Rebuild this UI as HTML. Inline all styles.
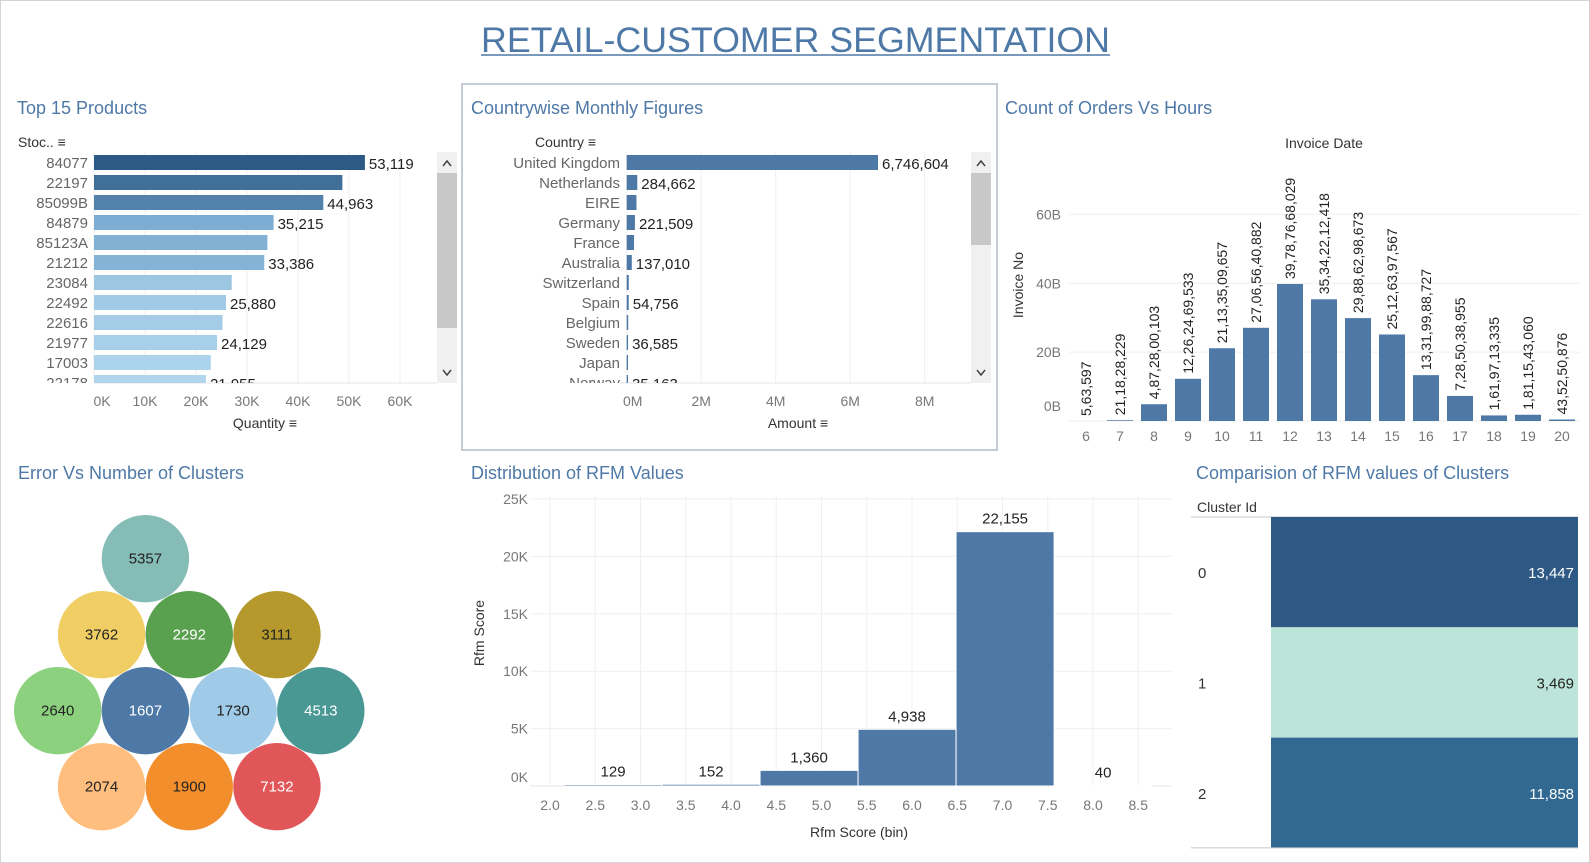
<!DOCTYPE html>
<html><head><meta charset="utf-8"><title>Retail Customer Segmentation</title>
<style>
html,body{margin:0;padding:0;background:#fff;}
svg{display:block;font-family:"Liberation Sans",sans-serif;}
.t{fill:#4e79a7;font-size:18px;}
.tick{fill:#777;font-size:14px;}
.lab{fill:#333;font-size:14px;}
.val{fill:#222;font-size:14px;}
.grid{stroke:#efefef;stroke-width:1;}
</style></head>
<body>
<svg id="dash" width="1590" height="863" viewBox="0 0 1590 863" xmlns="http://www.w3.org/2000/svg">
<rect x="0.5" y="0.5" width="1589" height="862" fill="#fff" stroke="#d4d4d4"/>
<text x="481" y="52" fill="#4e79a7" font-size="35" textLength="629" lengthAdjust="spacingAndGlyphs">RETAIL-CUSTOMER SEGMENTATION</text>
<line x1="481" y1="55" x2="1110" y2="55" stroke="#4e79a7" stroke-width="1.5"/>

<!-- panel titles -->
<text class="t" x="17" y="114">Top 15 Products</text>
<text class="t" x="471" y="114">Countrywise Monthly Figures</text>
<text class="t" x="1005" y="114">Count of Orders Vs Hours</text>
<text class="t" x="18" y="479">Error Vs Number of Clusters</text>
<text class="t" x="471" y="479">Distribution of RFM Values</text>
<text class="t" x="1196" y="479">Comparision of RFM values of Clusters</text>

<rect x="462" y="84" width="535" height="366" fill="none" stroke="#c6ccd4" stroke-width="2"/>
<line x1="997" y1="84" x2="997" y2="450" stroke="#c6ccd4" stroke-width="2" stroke-dasharray="3,2"/>

<g id="g1"></g>
<g id="g2"></g>
<g id="g3"></g>
<g id="g4"></g>
<g id="g5"></g>
<g id="g6"></g>
<defs>
<clipPath id="c1"><rect x="0" y="152" width="437" height="231"/></clipPath>
<clipPath id="c2"><rect x="462" y="152" width="509" height="231"/></clipPath>
</defs>
</svg>
<script>
// ---------- data ----------
const productIds = ["84077","22197","85099B","84879","85123A","21212","23084","22492","22616","21977","17003","22178"];
const productQty = [53119,48700,44963,35215,34000,33386,27000,25880,25200,24129,22900,21955];
const productShowLabel = [true,false,true,true,false,true,false,true,false,true,false,true];
const qtyTicks = [0,10000,20000,30000,40000,50000,60000];
const qtyTickLabels = ["0K","10K","20K","30K","40K","50K","60K"];

const countries = ["United Kingdom","Netherlands","EIRE","Germany","France","Australia","Switzerland","Spain","Belgium","Sweden","Japan","Norway"];
const countryAmount = [6746604,284662,262000,221509,197000,137010,56000,54756,40000,36585,35500,35163];
const countryShowLabel = [true,true,false,true,false,true,false,true,false,true,false,true];
const amountTicks = [0,2000000,4000000,6000000,8000000];
const amountTickLabels = ["0M","2M","4M","6M","8M"];

const hours = [6,7,8,9,10,11,12,13,14,15,16,17,18,19,20];
const invoiceSum = [0.000563597,0.211828229,4.872800103,12.26246953,21.13350966,27.06564088,39.78766803,35.34221242,29.88629867,25.12639757,13.31998873,7.28503896,1.61971334,1.81154306,0.43525088];
const invoiceLabels = ["5,63,597","21,18,28,229","4,87,28,00,103","12,26,24,69,533","21,13,35,09,657","27,06,56,40,882","39,78,76,68,029","35,34,22,12,418","29,88,62,98,673","25,12,63,97,567","13,31,99,88,727","7,28,50,38,955","1,61,97,13,335","1,81,15,43,060","43,52,50,876"];
const invoiceTicks = [0,20,40,60];
const invoiceTickLabels = ["0B","20B","40B","60B"];

const clusterErrors = [5357,3762,2292,3111,2640,1607,1730,4513,2074,1900,7132];
const clusterRow = [0,1,1,1,2,2,2,2,3,3,3];
const clusterCol = [1,0.5,1.5,2.5,0,1,2,3,0.5,1.5,2.5];
const clusterColors = ["#86bcb6","#f1ce63","#59a14f","#b6992d","#8cd17d","#4e79a7","#a0cbe8","#499894","#ffbe7d","#f28e2b","#e15759"];
const clusterTextLight = [false,false,true,false,false,true,false,true,false,false,true];

const rfmBinStart = [2.155,3.238,4.321,5.404,6.487,7.570];
const rfmBinWidth = 1.083;
const rfmCounts = [129,152,1360,4938,22155,40];
const rfmCountLabels = ["129","152","1,360","4,938","22,155","40"];
const rfmXTicks = [2.0,2.5,3.0,3.5,4.0,4.5,5.0,5.5,6.0,6.5,7.0,7.5,8.0,8.5];
const rfmYTicks = [0,5000,10000,15000,20000,25000];
const rfmYTickLabels = ["0K","5K","10K","15K","20K","25K"];

const clusterIds = ["0","1","2"];
const clusterRfm = [13447,3469,11858];
const clusterRfmLabels = ["13,447","3,469","11,858"];

// ---------- helpers ----------
const NS="http://www.w3.org/2000/svg";
function mk(parent,tag,attrs,text){const e=document.createElementNS(NS,tag);for(const k in attrs)e.setAttribute(k,attrs[k]);if(text!==undefined)e.textContent=text;parent.appendChild(e);return e;}
function lerpColor(a,b,t){const pa=[1,3,5].map(i=>parseInt(a.substr(i,2),16)),pb=[1,3,5].map(i=>parseInt(b.substr(i,2),16));return "rgb("+pa.map((v,i)=>Math.round(v+(pb[i]-v)*t)).join(",")+")";}

// ---------- Top 15 products ----------
(function(){
const g=document.getElementById('g1');
const x=v=>94+v*(349-94)/50000;
const rowTop=i=>155+i*20;
let e;
e=mk(g,'text',{x:18,y:147,class:'lab'},"Stoc.. \u2261");


qtyTicks.forEach((t,i)=>{
 e=mk(g,'line',{x1:x(t),y1:152,x2:x(t),y2:383,class:'grid'});
 
 
 e=mk(g,'text',{x:x(t)+(i==0?8:0),y:406,class:'tick','text-anchor':'middle'},qtyTickLabels[i]);
 
 
});
e=mk(g,'line',{x1:94,y1:383,x2:437,y2:383,stroke:'#e6e6e6'});


e=mk(g,'text',{x:265,y:428,class:'lab','text-anchor':'middle'},"Quantity \u2261");


const cg=mk(g,'g',{'clip-path':'url(#c1)'});
const mx=Math.max(...productQty),mn=Math.min(...productQty);
productIds.forEach((p,i)=>{
 const t=(mx-productQty[i])/(mx-mn);
 e=mk(cg,'rect',{x:94,y:rowTop(i),width:x(productQty[i])-94,height:15,fill:t<0.5?lerpColor('#2c5985','#74a6cd',t*2):lerpColor('#74a6cd','#b0d6ee',(t-0.5)*2)});
 
 
 e=mk(cg,'text',{x:88,y:rowTop(i)+13,class:'tick','text-anchor':'end',style:'fill:#666;font-size:15px'},p);
 
 
 if(productShowLabel[i]){
  e=mk(cg,'text',{x:x(productQty[i])+4,y:rowTop(i)+14,class:'val',style:'font-size:15px'},productQty[i].toLocaleString('en-US'));
  
  
 }
});
e=mk(g,'rect',{x:437,y:152,width:20,height:231,fill:'#f0f0f0'});


e=mk(g,'rect',{x:437,y:173,width:20,height:155,fill:'#c8c8c8'});


e=mk(g,'path',{d:'M443 166 L447 161 L451 166',stroke:'#444',fill:'none','stroke-width':1.5});


e=mk(g,'path',{d:'M443 370 L447 375 L451 370',stroke:'#444',fill:'none','stroke-width':1.5});


})();

// ---------- Countrywise ----------
(function(){
const g=document.getElementById('g2');
const x=v=>626.7+v*74.5/2000000;
const rowTop=i=>155+i*20;
let e;
e=mk(g,'text',{x:535,y:147,class:'lab'},"Country \u2261");


amountTicks.forEach((t,i)=>{
 e=mk(g,'line',{x1:x(t),y1:152,x2:x(t),y2:383,class:'grid'});
 
 
 e=mk(g,'text',{x:x(t)+(i==0?6:0),y:406,class:'tick','text-anchor':'middle'},amountTickLabels[i]);
 
 
});
e=mk(g,'line',{x1:620,y1:383,x2:971,y2:383,stroke:'#e6e6e6'});


e=mk(g,'text',{x:798,y:428,class:'lab','text-anchor':'middle'},"Amount \u2261");


const cg=mk(g,'g',{'clip-path':'url(#c2)'});
countries.forEach((c,i)=>{
 e=mk(cg,'rect',{x:626.7,y:rowTop(i),width:Math.max(1,x(countryAmount[i])-626.7),height:15,fill:'#4e79a7'});
 
 
 e=mk(cg,'text',{x:620,y:rowTop(i)+13,class:'tick','text-anchor':'end',style:'fill:#666;font-size:15px'},c);
 
 
 if(countryShowLabel[i]){
  e=mk(cg,'text',{x:x(countryAmount[i])+4,y:rowTop(i)+14,class:'val',style:'font-size:15px'},countryAmount[i].toLocaleString('en-US'));
  
  
 }
});
e=mk(g,'rect',{x:971,y:152,width:20,height:231,fill:'#f0f0f0'});


e=mk(g,'rect',{x:971,y:173,width:20,height:72,fill:'#c8c8c8'});


e=mk(g,'path',{d:'M977 166 L981 161 L985 166',stroke:'#444',fill:'none','stroke-width':1.5});


e=mk(g,'path',{d:'M977 370 L981 375 L985 370',stroke:'#444',fill:'none','stroke-width':1.5});


})();

// ---------- Orders vs hours ----------
(function(){
const g=document.getElementById('g3');
const y=v=>421-v*(421-284)/39.7877;
const xc=h=>1154+(h-8)*34;
let e;
e=mk(g,'text',{x:1324,y:148,class:'lab','text-anchor':'middle'},"Invoice Date");


invoiceTicks.forEach((t,i)=>{
 e=mk(g,'line',{x1:1069,y1:y(t),x2:1580,y2:y(t),class:'grid'});
 
 
 e=mk(g,'text',{x:1061,y:y(t)+(i==0?-10:5),class:'tick','text-anchor':'end'},invoiceTickLabels[i]);
 
 
});
e=mk(g,'text',{x:1023,y:285,class:'lab','text-anchor':'middle',transform:'rotate(-90 1023 285)'},"Invoice No");


hours.forEach((h,i)=>{
 const top=y(invoiceSum[i]);
 e=mk(g,'rect',{x:xc(h)-13,y:top,width:26,height:421-top,fill:'#4e79a7'});
 
 
 const ly=Math.min(top,421)-5, lx=xc(h)+5;
 e=mk(g,'text',{x:lx,y:ly,class:'val',transform:'rotate(-90 '+lx+' '+ly+')'},invoiceLabels[i]);
 
 
 e=mk(g,'text',{x:xc(h),y:441,class:'tick','text-anchor':'middle'},String(h));
 
 
});
})();

// ---------- Error vs clusters ----------
(function(){
const g=document.getElementById('g4');
const cx=c=>57.7+c*87.7;
const cy=r=>558.7+r*76;
let e;
clusterErrors.forEach((v,i)=>{
 e=mk(g,'circle',{cx:cx(clusterCol[i]),cy:cy(clusterRow[i]),r:43.7,fill:clusterColors[i]});
 
 
 e=mk(g,'text',{x:cx(clusterCol[i]),y:cy(clusterRow[i])+5,'text-anchor':'middle',style:'font-size:15px;fill:'+(clusterTextLight[i]?'#fff':'#222')},String(v));
 
 
});
})();

// ---------- RFM distribution ----------
(function(){
const g=document.getElementById('g5');
const x=v=>550+(v-2)*90.5;
const y=v=>786-v*57.4/5000;
let e;
rfmYTicks.forEach((t,i)=>{
 e=mk(g,'line',{x1:530,y1:y(t),x2:1172,y2:y(t),class:'grid'});
 
 
 e=mk(g,'text',{x:528,y:y(t)+(i==0?-4:5),class:'tick','text-anchor':'end'},rfmYTickLabels[i]);
 
 
});
rfmXTicks.forEach(t=>{
 e=mk(g,'line',{x1:x(t),y1:497,x2:x(t),y2:786,class:'grid'});
 
 
 e=mk(g,'text',{x:x(t),y:810,class:'tick','text-anchor':'middle'},t.toFixed(1));
 
 
});
e=mk(g,'line',{x1:530,y1:786,x2:1172,y2:786,stroke:'#e6e6e6'});


rfmCounts.forEach((v,i)=>{
 const x0=x(rfmBinStart[i]),x1=x(rfmBinStart[i]+rfmBinWidth),top=y(v);
 e=mk(g,'rect',{x:x0,y:top,width:x1-x0,height:786-top,fill:'#4e79a7',stroke:'#fff','stroke-width':1});
 
 
 e=mk(g,'text',{x:(x0+x1)/2,y:top-8,class:'val','text-anchor':'middle',style:'font-size:15px'},rfmCountLabels[i]);
 
 
});
e=mk(g,'text',{x:484,y:633,class:'lab','text-anchor':'middle',transform:'rotate(-90 484 633)'},"Rfm Score");


e=mk(g,'text',{x:859,y:837,class:'lab','text-anchor':'middle'},"Rfm Score (bin)");


})();

// ---------- Cluster RFM heatmap ----------
(function(){
const g=document.getElementById('g6');
const rowH=110.3, top=517;
const mx=Math.max(...clusterRfm), mn=Math.min(...clusterRfm);
let e;
e=mk(g,'text',{x:1197,y:512,class:'lab'},"Cluster Id");


e=mk(g,'line',{x1:1191,y1:top,x2:1578,y2:top,stroke:'#c8c8c8'});


clusterIds.forEach((c,i)=>{
 const t=(clusterRfm[i]-mn)/(mx-mn);
 const fill=t<0.5?lerpColor('#bde4d9','#3a8ab0',t*2):lerpColor('#3a8ab0','#2e5985',(t-0.5)*2);
 e=mk(g,'rect',{x:1271,y:top+i*rowH,width:307,height:rowH,fill:fill});
 
 
 e=mk(g,'text',{x:1574,y:top+i*rowH+rowH/2+6,'text-anchor':'end',style:'font-size:15px;fill:'+(t>0.5?'#fff':'#222')},clusterRfmLabels[i]);
 
 
 e=mk(g,'text',{x:1198,y:top+i*rowH+rowH/2+6,class:'lab',style:'font-size:15px'},c);
 
 
});
e=mk(g,'line',{x1:1191,y1:top+3*rowH,x2:1578,y2:top+3*rowH,stroke:'#c8c8c8'});


})();
</script>
</body></html>
